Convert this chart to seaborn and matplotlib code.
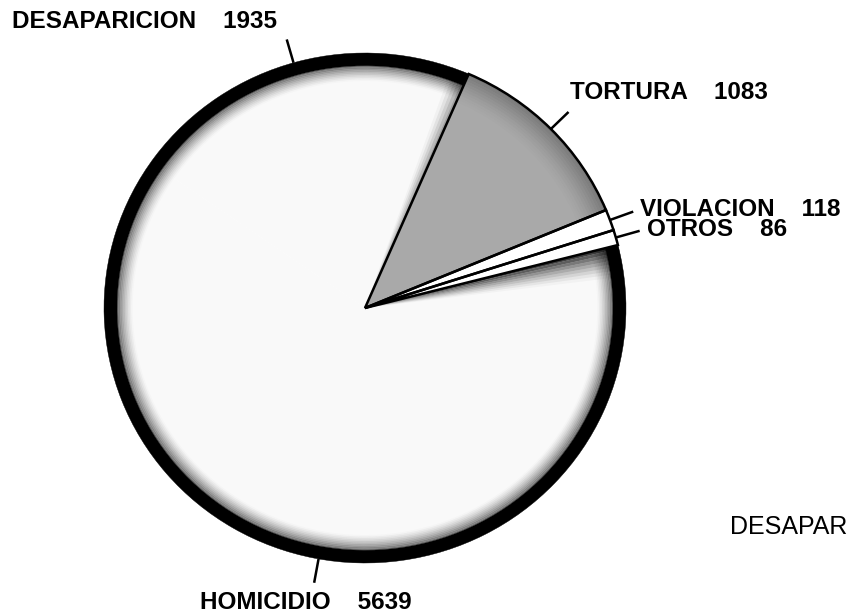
import matplotlib
matplotlib.use("Agg")
import numpy as np
import matplotlib.pyplot as plt
import seaborn as sns
from matplotlib.patches import Wedge

# datos del grafico
categorias = ["HOMICIDIO", "DESAPARICION", "TORTURA", "VIOLACION", "OTROS"]
casos = [5639, 1935, 1083, 118, 86]
texto_pagina = "DESAPAR"

sns.set_theme(style="white")
plt.rcParams["font.family"] = ["Liberation Sans", "DejaVu Sans"]

fig = plt.figure(figsize=(8.5, 6.15), dpi=100)
ax = fig.add_axes([0, 0, 1, 1])

inicio = 14.3
claro = "#f9f9f9"
colores = [claro, claro, "#a9a9a9", "white", "white"]

# relleno base
wedges, _ = ax.pie(casos, colors=colores, startangle=inicio, counterclock=False,
                   wedgeprops=dict(linewidth=0))
hom, des, tor = wedges[0], wedges[1], wedges[2]

# sombra hacia el borde: area clara (homicidio + desaparicion) y tortura
ax.add_patch(Wedge((0, 0), 1, des.theta1, hom.theta2, width=0.05,
                   color="black", lw=0.3))
for k in range(10):
    r = 0.95 - 0.006 * k
    a = 0.55 * (1 - k / 10) ** 1.5
    ax.add_patch(Wedge((0, 0), r, des.theta1, hom.theta2, width=0.006,
                       color="black", alpha=a, lw=0))
for k in range(12):
    r = 1.0 - 0.01 * k
    a = 0.35 * (1 - k / 12) ** 1.5
    ax.add_patch(Wedge((0, 0), r, tor.theta1, tor.theta2, width=0.01,
                       color="#202020", alpha=a, lw=0))

# sombra junto a los bordes radiales del area clara
for k in range(9):
    d = 0.8 * (k + 1)
    a = 0.75 * (1 - k / 9) ** 1.5
    ax.add_patch(Wedge((0, 0), 1, hom.theta2 - d, hom.theta2 - d + 0.8,
                       color="black", alpha=a, lw=0))
for k in range(5):
    d = 0.8 * (k + 1)
    a = 0.35 * (1 - k / 5) ** 1.5
    ax.add_patch(Wedge((0, 0), 1, des.theta1 + d - 0.8, des.theta1 + d,
                       color="black", alpha=a, lw=0))

# contornos
bordes, _ = ax.pie(casos, colors=["none"] * 5, startangle=inicio,
                   counterclock=False,
                   wedgeprops=dict(edgecolor="black", linewidth=1.8))
bordes[0].set_linewidth(0)
bordes[1].set_linewidth(0)

# etiquetas con marcas radiales
posiciones = [(-0.632, -1.153), (-1.352, 1.125), (0.785, 0.847),
              (1.054, 0.388), (1.080, 0.306)]
for w, cat, n, (tx, ty) in zip(wedges, categorias, casos, posiciones):
    ang = np.deg2rad((w.theta1 + w.theta2) / 2)
    ax.plot([np.cos(ang), 1.095 * np.cos(ang)], [np.sin(ang), 1.095 * np.sin(ang)],
            color="black", lw=1.8, solid_capstyle="butt", clip_on=False)
    ax.text(tx, ty, f"{cat}    {n}", ha="left", va="center", fontsize=17.5,
            fontweight="bold", color="black")

ax.text(1.398, -0.859, texto_pagina, ha="left", va="center", fontsize=18,
        color="black")

ax.set_aspect("auto")
ax.set_xlim(-365 / 261, 485 / 261)
ax.set_ylim(-307 / 255, 308 / 255)
ax.axis("off")

fig.savefig("out.png", dpi=100)
